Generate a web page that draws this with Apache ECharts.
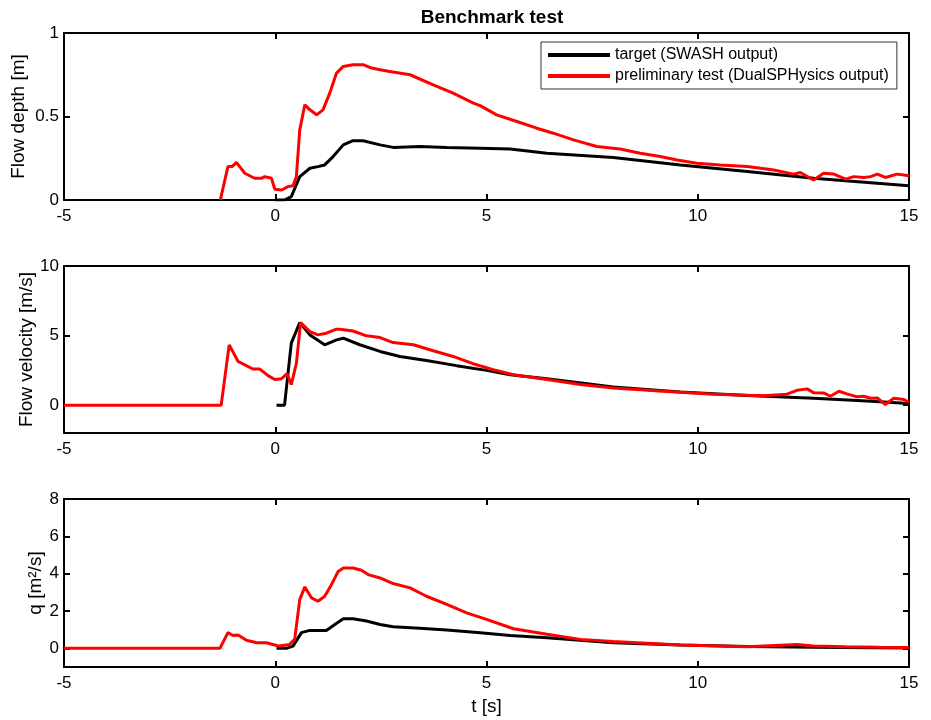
<!DOCTYPE html>
<html>
<head>
<meta charset="utf-8">
<script src="https://cdn.jsdelivr.net/npm/echarts@6/dist/echarts.min.js"></script>
<style>html,body{margin:0;padding:0;background:#fff;}#c{width:931px;height:720px;}</style>
</head>
<body>
<div id="c"></div>
<script>
// Flow depth
var depthRedT = [-1.30,-1.12,-1.02,-0.92,-0.72,-0.49,-0.33,-0.25,-0.09,-0.01,0.15,0.30,0.42,0.50,0.58,0.70,0.82,0.98,1.13,1.29,1.45,1.61,1.84,2.08,2.28,2.48,2.71,3.19,3.74,4.21,4.69,4.85,5.24,5.72,6.19,6.58,7.06,7.61,8.16,8.64,9.11,9.51,9.98,10.53,11.17,11.80,12.27,12.43,12.74,12.98,13.22,13.50,13.69,13.93,14.09,14.25,14.44,14.72,15.0];
var depthRed = [0,0.20,0.20,0.225,0.16,0.13,0.13,0.14,0.13,0.064,0.06,0.08,0.085,0.14,0.42,0.57,0.54,0.51,0.54,0.64,0.76,0.80,0.81,0.81,0.79,0.78,0.77,0.75,0.69,0.64,0.58,0.565,0.51,0.47,0.43,0.40,0.36,0.32,0.305,0.28,0.26,0.24,0.22,0.21,0.20,0.18,0.155,0.165,0.12,0.16,0.155,0.125,0.14,0.135,0.14,0.155,0.135,0.155,0.145];
var depthBlackT = [0.0,0.22,0.38,0.58,0.82,1.01,1.17,1.37,1.61,1.84,2.08,2.48,2.79,3.42,4.06,4.85,5.56,6.43,8.0,9.59,11.17,12.74,15.0];
var depthBlack = [0,0,0.02,0.14,0.19,0.20,0.21,0.26,0.33,0.355,0.355,0.33,0.315,0.32,0.315,0.31,0.305,0.28,0.255,0.21,0.17,0.13,0.086];
// Flow velocity
var velRedT = [-5,-1.28,-1.09,-0.88,-0.72,-0.53,-0.37,-0.17,-0.01,0.15,0.28,0.38,0.50,0.60,0.82,1.01,1.21,1.45,1.53,1.84,2.16,2.48,2.79,3.27,3.74,4.21,4.68,5.16,5.64,6.43,7.22,8.0,9.19,10.37,11.56,12.11,12.35,12.59,12.74,12.98,13.14,13.34,13.53,13.77,13.93,14.09,14.25,14.44,14.64,14.88,15.0];
var velRed = [0,0,4.33,3.14,2.9,2.6,2.6,2.12,1.84,1.9,2.26,1.48,3.0,5.93,5.29,5.05,5.17,5.46,5.46,5.33,4.98,4.86,4.5,4.34,3.91,3.5,2.98,2.55,2.19,1.84,1.48,1.24,1.0,0.79,0.67,0.79,1.07,1.17,0.9,0.88,0.64,1.0,0.81,0.6,0.64,0.5,0.52,0.05,0.5,0.41,0.21];
var velBlackT = [0.03,0.22,0.38,0.58,0.82,1.17,1.45,1.61,2.0,2.48,2.95,3.58,4.29,5.0,5.56,6.43,8.0,9.59,11.17,12.74,14.0,15.0];
var velBlack = [0,0,4.46,5.93,5.05,4.34,4.69,4.81,4.34,3.86,3.5,3.21,2.84,2.5,2.19,1.9,1.3,0.95,0.7,0.5,0.3,0.12];
// Discharge q
var qRedT = [-5,-1.31,-1.12,-1.0,-0.88,-0.68,-0.44,-0.21,-0.01,0.09,0.34,0.46,0.58,0.70,0.86,1.01,1.17,1.33,1.49,1.61,1.84,2.04,2.2,2.48,2.79,3.19,3.58,4.06,4.53,5.0,5.64,6.43,7.22,8.0,9.59,11.17,12.35,12.74,13.5,14.3,15.0];
var qRed = [0,0,0.84,0.69,0.71,0.43,0.30,0.30,0.18,0.12,0.21,0.48,2.61,3.29,2.70,2.52,2.79,3.41,4.12,4.30,4.30,4.18,3.95,3.77,3.47,3.24,2.79,2.35,1.90,1.55,1.05,0.75,0.48,0.36,0.18,0.09,0.21,0.13,0.09,0.06,0.04];
var qBlackT = [0.03,0.26,0.42,0.62,0.82,1.21,1.41,1.61,1.84,2.16,2.48,2.79,3.42,4.06,4.85,5.56,6.43,8.0,9.59,11.17,12.74,15.0];
var qBlack = [0,0,0.12,0.84,0.96,0.96,1.28,1.58,1.58,1.46,1.28,1.16,1.07,0.98,0.84,0.69,0.57,0.30,0.18,0.10,0.06,0.02];

var xTicks = [-5,0,5,10,15];
var yTicks = [[0,0.5,1],[0,5,10],[0,2,4,6,8]];
var yRanges = [[0,1],[-2,10],[-1,8]];
var yNames = ['Flow depth [m]','Flow velocity [m/s]','q [m\u00B2/s]'];
var nameTarget = 'target (SWASH output)';
var nameTest = 'preliminary test (DualSPHysics output)';

function pairs(t, v){ return t.map(function(x,i){ return [x, v[i]]; }); }

var FONT = '"Liberation Sans", Arial, Helvetica, sans-serif';
var grids = [
  {left:64, right:22, top:33, height:167, containLabel:false, outerBoundsMode:'none'},
  {left:64, right:22, top:266, height:167, containLabel:false, outerBoundsMode:'none'},
  {left:64, right:22, top:499, height:168, containLabel:false, outerBoundsMode:'none'}
];
var nameGaps = [36, 28, 19];
var xAxes = [], yAxes = [];
for (var g=0; g<3; g++){
  var axLine = {show:true, onZero:false, lineStyle:{color:'#000', width:2}};
  var tick = {show:true, inside:true, length:6, lineStyle:{color:'#000', width:2}, customValues: xTicks};
  xAxes.push({type:'value', gridIndex:g, position:'bottom', min:-5, max:15,
    axisLine:axLine, axisTick:tick, splitLine:{show:false},
    axisLabel:{show:true, customValues:xTicks, margin:8, color:'#000', fontSize:17, fontFamily:FONT},
    name: g===2 ? 't [s]' : '', nameLocation:'middle', nameGap:30, nameMoveOverlap:false,
    nameTextStyle:{color:'#000', fontSize:19, fontFamily:FONT}});
  yAxes.push({type:'value', gridIndex:g, position:'left', min:yRanges[g][0], max:yRanges[g][1],
    axisLine:axLine, splitLine:{show:false},
    axisTick:{show:true, inside:true, length:6, lineStyle:{color:'#000', width:2}, customValues:yTicks[g]},
    axisLabel:{show:true, customValues:yTicks[g], margin:5, color:'#000', fontSize:17, fontFamily:FONT},
    name: yNames[g], nameLocation:'middle', nameRotate:90, nameGap: nameGaps[g], nameMoveOverlap:false,
    nameTextStyle:{color:'#000', fontSize:19, fontFamily:FONT}});
}
for (var g2=0; g2<3; g2++){
  xAxes.push({type:'value', gridIndex:g2, position:'top', min:-5, max:15,
    axisLine:{show:true, onZero:false, lineStyle:{color:'#000', width:2}},
    axisTick:{show:true, inside:true, length:6, lineStyle:{color:'#000', width:2}, customValues:xTicks},
    axisLabel:{show:false}, splitLine:{show:false}});
  yAxes.push({type:'value', gridIndex:g2, position:'right', min:yRanges[g2][0], max:yRanges[g2][1],
    axisLine:{show:true, onZero:false, lineStyle:{color:'#000', width:2}},
    axisTick:{show:true, inside:true, length:6, lineStyle:{color:'#000', width:2}, customValues:yTicks[g2]},
    axisLabel:{show:false}, splitLine:{show:false}});
}

function ser(name, color, t, v, idx){
  return {name:name, type:'line', xAxisIndex:idx, yAxisIndex:idx, data:pairs(t,v),
    showSymbol:false, symbol:'none', smooth:false, animation:false,
    lineStyle:{color:color, width:3}, itemStyle:{color:color}, z: color==='#ff0000'?3:2};
}

var chart = echarts.init(document.getElementById('c'), null, {renderer:'canvas'});
chart.setOption({
  backgroundColor:'#fff',
  animation:false,
  title:{text:'Benchmark test', left:487, top:3, textAlign:'center',
    textStyle:{fontSize:19, fontWeight:'bold', color:'#000', fontFamily:FONT}},
  legend:{left:541, top:42, orient:'vertical', data:[nameTarget, nameTest],
    backgroundColor:'#fff', borderColor:'#333', borderWidth:1,
    padding:[5,8,5,7], itemGap:5, itemWidth:62, itemHeight:4, icon:'rect',
    textStyle:{fontSize:16, color:'#000', fontFamily:FONT, lineHeight:16}},
  grid:grids,
  xAxis:xAxes,
  yAxis:yAxes,
  series:[
    ser(nameTarget,'#000000',depthBlackT,depthBlack,0),
    ser(nameTest,'#ff0000',depthRedT,depthRed,0),
    ser(nameTarget,'#000000',velBlackT,velBlack,1),
    ser(nameTest,'#ff0000',velRedT,velRed,1),
    ser(nameTarget,'#000000',qBlackT,qBlack,2),
    ser(nameTest,'#ff0000',qRedT,qRed,2)
  ]
});
</script>
</body>
</html>
